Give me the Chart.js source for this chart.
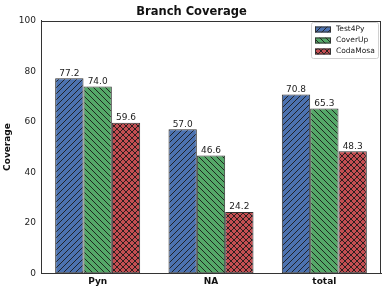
<!DOCTYPE html>
<html>
<head>
<meta charset="utf-8">
<script src="https://cdn.jsdelivr.net/npm/chart.js@4"></script>
<style>
  html, body { margin: 0; padding: 0; background: #fff; }
  #wrap { width: 389px; height: 292px; }
</style>
</head>
<body>
<div id="wrap"><canvas id="chart1" width="389" height="292"></canvas></div>
<script>
// data
const categories = ["Pyn", "NA", "total"];
const test4py = [77.2, 57.0, 70.8];
const coverup = [74.0, 46.6, 65.3];
const codamosa = [59.6, 24.2, 48.3];
const yTicks = [0, 20, 40, 60, 80, 100];

const FONT = "'DejaVu Sans', sans-serif";
const EDGE = "#333333";

// hatch pattern tile
function hatch(color, kind) {
    const s = 6;
    const c = document.createElement("canvas");
    c.width = s; c.height = s;
    const g = c.getContext("2d");
    g.fillStyle = color;
    g.fillRect(0, 0, s, s);
    g.strokeStyle = "#1a1a1a";
    g.lineWidth = 0.9;
    g.beginPath();
    if (kind === "/" || kind === "x") {
        g.moveTo(-1, s + 1); g.lineTo(s + 1, -1);
        g.moveTo(-1, 1); g.lineTo(1, -1);
        g.moveTo(s - 1, s + 1); g.lineTo(s + 1, s - 1);
    }
    if (kind === "\\" || kind === "x") {
        g.moveTo(-1, -1); g.lineTo(s + 1, s + 1);
        g.moveTo(s - 1, -1); g.lineTo(s + 1, 1);
        g.moveTo(-1, s - 1); g.lineTo(1, s + 1);
    }
    g.stroke();
    return g.createPattern(c, "repeat");
}

const ctx = document.getElementById("chart1").getContext("2d");

const series = [
    { label: "Test4Py", data: test4py, bg: hatch("#4c72b0", "/") },
    { label: "CoverUp", data: coverup, bg: hatch("#55a868", "\\") },
    { label: "CodaMosa", data: codamosa, bg: hatch("#c44e52", "x") }
];

// value labels, frame and legend box
const extras = {
    id: "extras",
    afterDatasetsDraw(chart) {
        const c = chart.ctx;
        c.save();
        c.font = "9px " + FONT;
        c.fillStyle = "#222";
        c.textAlign = "center";
        c.textBaseline = "bottom";
        chart.data.datasets.forEach((ds, i) => {
            chart.getDatasetMeta(i).data.forEach((bar, j) => {
                c.fillText(ds.data[j].toFixed(1), bar.x, bar.y - 0.5);
            });
        });
        c.restore();
    },
    afterDraw(chart) {
        const c = chart.ctx;
        const a = chart.chartArea;
        c.save();
        c.strokeStyle = EDGE;
        c.lineWidth = 1;
        c.strokeRect(Math.round(a.left) + 0.5, Math.round(a.top) + 0.5,
            Math.round(a.right - a.left) - 1, Math.round(a.bottom - a.top));

        // legend
        const bx = 311, by = 22, bw = 67, bh = 36;
        c.fillStyle = "rgba(255,255,255,0.8)";
        c.strokeStyle = "#d0d0d0";
        c.lineWidth = 1;
        c.beginPath();
        c.roundRect(bx + 0.5, by + 0.5, bw, bh, 2);
        c.fill();
        c.stroke();
        c.font = "7.5px " + FONT;
        c.textBaseline = "middle";
        c.textAlign = "left";
        series.forEach((s, i) => {
            const y = by + 7.5 + i * 11;
            c.fillStyle = s.bg;
            c.fillRect(bx + 4, y - 3, 16, 6);
            c.strokeStyle = EDGE;
            c.strokeRect(bx + 4.5, y - 2.5, 15, 5);
            c.fillStyle = "#222";
            c.fillText(s.label, bx + 25, y);
        });
        c.restore();
    }
};

new Chart(ctx, {
    type: "bar",
    data: {
        labels: categories,
        datasets: series.map(s => ({
            label: s.label,
            data: s.data,
            backgroundColor: s.bg,
            borderColor: EDGE,
            borderWidth: 1,
            borderSkipped: false,
            barPercentage: 1,
            categoryPercentage: 0.75
        }))
    },
    options: {
        responsive: false,
        animation: false,
        layout: { padding: { top: 5, right: 8, left: 2, bottom: 5 } },
        plugins: {
            legend: { display: false },
            tooltip: { enabled: false },
            title: {
                display: true,
                text: "Branch Coverage",
                color: "#111",
                font: { family: FONT, size: 11.5, weight: "bold" },
                padding: { top: 0, bottom: 2 }
            }
        },
        scales: {
            x: {
                grid: { display: false, drawTicks: true, tickLength: 3, color: EDGE },
                border: { color: EDGE },
                ticks: { color: "#111", font: { family: FONT, size: 9, weight: "bold" }, padding: 0 }
            },
            y: {
                min: 0,
                max: 100,
                afterBuildTicks: scale => { scale.ticks = yTicks.map(v => ({ value: v })); },
                grid: { display: false, drawTicks: true, tickLength: 3, color: EDGE },
                border: { color: EDGE },
                ticks: { color: "#222", font: { family: FONT, size: 9 }, padding: 2 },
                title: {
                    display: true,
                    text: "Coverage",
                    color: "#111",
                    font: { family: FONT, size: 9, weight: "bold" },
                    padding: { top: 0, bottom: 4 }
                },
                afterFit: scale => { scale.width = 39; }
            }
        }
    },
    plugins: [extras]
});
</script>
</body>
</html>
